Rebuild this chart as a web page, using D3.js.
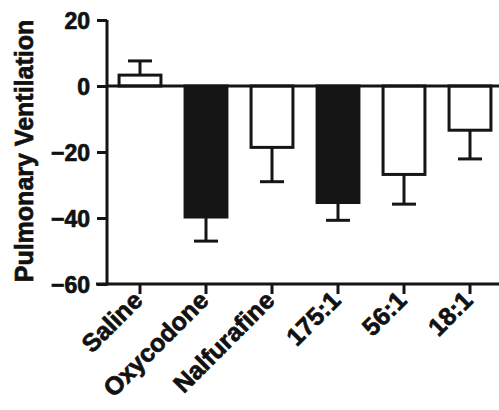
<!DOCTYPE html>
<html>
<head>
<meta charset="utf-8">
<script src="https://cdn.jsdelivr.net/npm/d3@7"></script>
<style>
  body { margin: 0; background: #fff; }
  text { font-family: "Liberation Sans", Arial, sans-serif; font-weight: bold; fill: #111; stroke: #111; stroke-width: 0.7px; }
</style>
</head>
<body>
<div id="chart"></div>
<script>
// chart data
let categories = ["Saline", "Oxycodone", "Nalfurafine", "175:1", "56:1", "18:1"];
let means = [3.3, -39.7, -18.6, -35.3, -26.8, -13.4];
let errors = [4.3, 7.3, 10.4, 5.4, 9.0, 8.7];
let filled = [false, true, false, true, false, false];
let yTicks = [20, 0, -20, -40, -60];

let w = 499, h = 410;
let margin = {top: 20, right: -4, bottom: 126, left: 107};
let ink = "#151515";

let svg = d3.select("#chart").append("svg")
    .attr("width", w)
    .attr("height", h);

let x = d3.scaleBand()
    .domain(categories)
    .range([margin.left, w - margin.right])
    .paddingInner(0.32)
    .paddingOuter(0.16);

let y = d3.scaleLinear()
    .domain([-60, 20])
    .range([h - margin.bottom, margin.top]);

// error bars (one-sided, away from zero)
let eb = svg.append("g");
categories.forEach(function(c, i) {
    let cx = x(c) + x.bandwidth() / 2;
    let tip = means[i] >= 0 ? means[i] + errors[i] : means[i] - errors[i];
    eb.append("line")
        .attr("x1", cx).attr("x2", cx)
        .attr("y1", y(means[i])).attr("y2", y(tip))
        .attr("stroke", ink).attr("stroke-width", 3);
    eb.append("line")
        .attr("x1", cx - 12).attr("x2", cx + 12)
        .attr("y1", y(tip)).attr("y2", y(tip))
        .attr("stroke", ink).attr("stroke-width", 3);
});

// bars
svg.append("g").selectAll("rect")
    .data(categories)
    .enter()
    .append("rect")
    .attr("x", function(d) { return x(d) + 1.5; })
    .attr("width", x.bandwidth() - 3)
    .attr("y", function(d, i) { return y(Math.max(0, means[i])); })
    .attr("height", function(d, i) { return Math.abs(y(means[i]) - y(0)); })
    .attr("fill", function(d, i) { return filled[i] ? ink : "#fff"; })
    .attr("stroke", ink)
    .attr("stroke-width", 3);

// zero line
svg.append("line")
    .attr("x1", margin.left).attr("x2", w)
    .attr("y1", y(0)).attr("y2", y(0))
    .attr("stroke", ink).attr("stroke-width", 3);

// y axis
let yAxis = svg.append("g")
    .attr("transform", "translate(" + margin.left + ",0)")
    .call(d3.axisLeft(y).tickValues(yTicks).tickSize(10).tickPadding(7).tickSizeOuter(0));
yAxis.select(".domain").attr("stroke", ink).attr("stroke-width", 3)
    .attr("d", "M0," + y(20) + "V" + (y(-60) + 1.5));
yAxis.selectAll(".tick line").attr("stroke", ink).attr("stroke-width", 3);
yAxis.selectAll(".tick text").style("font-size", "23px").style("font-weight", "bold")
    .style("font-family", "Liberation Sans, Arial, sans-serif").attr("fill", ink).attr("dy", "0.36em");

// x axis
let xAxis = svg.append("g")
    .attr("transform", "translate(0," + y(-60) + ")")
    .call(d3.axisBottom(x).tickSize(10).tickSizeOuter(0).tickFormat(""));
xAxis.select(".domain").attr("stroke", ink).attr("stroke-width", 3)
    .attr("d", "M" + (margin.left - 11) + ",0H" + w);
xAxis.selectAll(".tick line").attr("stroke", ink).attr("stroke-width", 3);

// rotated category labels
svg.append("g").selectAll("text")
    .data(categories)
    .enter()
    .append("text")
    .attr("text-anchor", "end")
    .style("font-size", "25px")
    .attr("transform", function(d) {
        return "translate(" + (x(d) + x.bandwidth() / 2 + 4) + "," + (y(-60) + 18) + ") rotate(-45)";
    })
    .text(function(d) { return d; });

// y axis title
svg.append("text")
    .attr("text-anchor", "middle")
    .style("font-size", "25px")
    .attr("transform", "translate(33," + ((y(20) + y(-60)) / 2 - 1) + ") rotate(-90)")
    .text("Pulmonary Ventilation");
</script>
</body>
</html>
